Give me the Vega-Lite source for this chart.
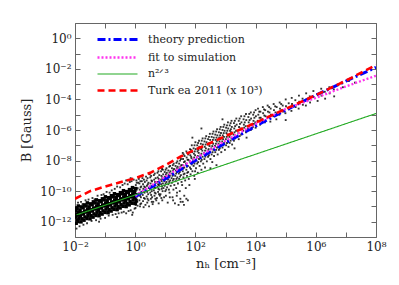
{
  "$schema": "https://vega.github.io/schema/vega-lite/v6.json",
  "width": 301,
  "height": 214,
  "autosize": {"type": "none"},
  "padding": {"left": 75, "top": 23, "right": 23, "bottom": 48},
  "background": "white",
  "config": {"view": {"stroke": null}, "font": "DejaVu Serif",
    "legend": {"labelFont": "DejaVu Serif", "labelFontSize": 11, "labelColor": "#222"}},
  "datasets": {
    "core": [
      {"x":-1.96,"y":-12.10},{"x":-1.93,"y":-11.89},{"x":-1.98,"y":-11.70},{"x":-1.94,"y":-11.50},{"x":-1.99,"y":-11.29},{"x":-1.95,"y":-11.10},
      {"x":-1.9,"y":-11.99},{"x":-1.87,"y":-11.78},{"x":-1.92,"y":-11.57},{"x":-1.88,"y":-11.38},{"x":-1.93,"y":-11.17},{"x":-1.89,"y":-10.97},
      {"x":-1.8,"y":-12.01},{"x":-1.77,"y":-11.81},{"x":-1.82,"y":-11.62},{"x":-1.78,"y":-11.42},{"x":-1.83,"y":-11.23},{"x":-1.79,"y":-11.03},
      {"x":-1.7,"y":-11.90},{"x":-1.67,"y":-11.69},{"x":-1.72,"y":-11.50},{"x":-1.68,"y":-11.30},{"x":-1.73,"y":-11.09},{"x":-1.69,"y":-10.90},
      {"x":-1.6,"y":-11.79},{"x":-1.57,"y":-11.58},{"x":-1.62,"y":-11.37},{"x":-1.58,"y":-11.18},{"x":-1.63,"y":-10.97},{"x":-1.59,"y":-10.77},
      {"x":-1.5,"y":-11.81},{"x":-1.47,"y":-11.61},{"x":-1.52,"y":-11.42},{"x":-1.48,"y":-11.22},{"x":-1.53,"y":-11.03},{"x":-1.49,"y":-10.83},
      {"x":-1.4,"y":-11.70},{"x":-1.37,"y":-11.49},{"x":-1.42,"y":-11.30},{"x":-1.38,"y":-11.10},{"x":-1.43,"y":-10.89},{"x":-1.39,"y":-10.70},
      {"x":-1.3,"y":-11.59},{"x":-1.27,"y":-11.38},{"x":-1.32,"y":-11.17},{"x":-1.28,"y":-10.98},{"x":-1.33,"y":-10.77},{"x":-1.29,"y":-10.57},
      {"x":-1.2,"y":-11.61},{"x":-1.17,"y":-11.41},{"x":-1.22,"y":-11.22},{"x":-1.18,"y":-11.02},{"x":-1.23,"y":-10.83},{"x":-1.19,"y":-10.63},
      {"x":-1.1,"y":-11.50},{"x":-1.07,"y":-11.29},{"x":-1.12,"y":-11.10},{"x":-1.08,"y":-10.90},{"x":-1.13,"y":-10.69},{"x":-1.09,"y":-10.50},
      {"x":-1.0,"y":-11.39},{"x":-0.97,"y":-11.18},{"x":-1.02,"y":-10.97},{"x":-0.98,"y":-10.78},{"x":-1.03,"y":-10.57},{"x":-0.99,"y":-10.37},
      {"x":-0.9,"y":-11.41},{"x":-0.87,"y":-11.21},{"x":-0.92,"y":-11.02},{"x":-0.88,"y":-10.82},{"x":-0.93,"y":-10.63},{"x":-0.89,"y":-10.43},
      {"x":-0.8,"y":-11.30},{"x":-0.77,"y":-11.09},{"x":-0.82,"y":-10.90},{"x":-0.78,"y":-10.70},{"x":-0.83,"y":-10.49},{"x":-0.79,"y":-10.30},
      {"x":-0.7,"y":-11.19},{"x":-0.67,"y":-10.98},{"x":-0.72,"y":-10.77},{"x":-0.68,"y":-10.58},{"x":-0.73,"y":-10.37},{"x":-0.69,"y":-10.17},
      {"x":-0.6,"y":-11.21},{"x":-0.57,"y":-11.01},{"x":-0.62,"y":-10.82},{"x":-0.58,"y":-10.62},{"x":-0.63,"y":-10.43},{"x":-0.59,"y":-10.23},
      {"x":-0.5,"y":-11.10},{"x":-0.47,"y":-10.89},{"x":-0.52,"y":-10.70},{"x":-0.48,"y":-10.50},{"x":-0.53,"y":-10.29},{"x":-0.49,"y":-10.10},
      {"x":-0.4,"y":-10.99},{"x":-0.37,"y":-10.78},{"x":-0.42,"y":-10.57},{"x":-0.38,"y":-10.38},{"x":-0.43,"y":-10.17},{"x":-0.39,"y":-9.97},
      {"x":-0.3,"y":-11.01},{"x":-0.27,"y":-10.81},{"x":-0.32,"y":-10.62},{"x":-0.28,"y":-10.42},{"x":-0.33,"y":-10.23},{"x":-0.29,"y":-10.03},
      {"x":-0.2,"y":-10.90},{"x":-0.17,"y":-10.69},{"x":-0.22,"y":-10.50},{"x":-0.18,"y":-10.30},{"x":-0.23,"y":-10.09},{"x":-0.19,"y":-9.90},
      {"x":-0.1,"y":-10.79},{"x":-0.07,"y":-10.58},{"x":-0.12,"y":-10.37},{"x":-0.08,"y":-10.18},{"x":-0.13,"y":-9.97},{"x":-0.09,"y":-9.77},
      {"x":0.0,"y":-10.81},{"x":0.03,"y":-10.61},{"x":-0.02,"y":-10.42},{"x":0.02,"y":-10.22},{"x":-0.03,"y":-10.03},{"x":0.01,"y":-9.83}
    ],
    "pts": [
      {"x":-1.95,"y":-12.45},{"x":-1.9,"y":-10.75},{"x":-1.85,"y":-12.3},{"x":-1.75,"y":-10.85},{"x":-1.72,"y":-12.2},{"x":-1.65,"y":-10.6},
      {"x":-1.6,"y":-12.1},{"x":-1.55,"y":-10.55},{"x":-1.45,"y":-11.95},{"x":-1.42,"y":-10.45},{"x":-1.35,"y":-10.55},{"x":-1.3,"y":-11.9},
      {"x":-1.25,"y":-10.3},{"x":-1.15,"y":-11.8},{"x":-1.12,"y":-10.25},{"x":-1.05,"y":-10.2},{"x":-1.0,"y":-11.75},{"x":-0.95,"y":-10.05},
      {"x":-0.88,"y":-11.6},{"x":-0.85,"y":-10.1},{"x":-0.78,"y":-9.95},{"x":-0.75,"y":-11.55},{"x":-0.68,"y":-9.85},{"x":-0.65,"y":-11.5},
      {"x":-0.6,"y":-9.7},{"x":-0.55,"y":-11.45},{"x":-0.5,"y":-9.75},{"x":-0.45,"y":-11.4},{"x":-0.42,"y":-9.6},{"x":-0.38,"y":-11.35},
      {"x":-0.35,"y":-9.5},{"x":-0.3,"y":-11.45},{"x":-0.25,"y":-9.55},{"x":-0.22,"y":-11.3},{"x":-0.18,"y":-9.4},{"x":-0.15,"y":-11.25},
      {"x":-0.12,"y":-9.35},{"x":-0.08,"y":-11.4},{"x":-0.05,"y":-9.25},{"x":-0.02,"y":-11.15},{"x":-0.3,"y":-9.3},{"x":-0.15,"y":-9.15},
      {"x":-0.1,"y":-11.55},{"x":-0.6,"y":-11.7},{"x":-1.2,"y":-12.0},{"x":-1.8,"y":-10.7},
      {"x":0.02,"y":-9.6},{"x":0.02,"y":-10.0},{"x":0.03,"y":-10.5},{"x":0.02,"y":-10.9},{"x":0.04,"y":-9.3},{"x":0.01,"y":-11.1},
      {"x":0.08,"y":-9.8},{"x":0.09,"y":-10.3},{"x":0.07,"y":-10.7},{"x":0.1,"y":-9.45},{"x":0.08,"y":-10.95},
      {"x":0.14,"y":-9.5},{"x":0.15,"y":-9.9},{"x":0.13,"y":-10.15},{"x":0.14,"y":-10.6},{"x":0.16,"y":-11.0},{"x":0.12,"y":-9.2},
      {"x":0.2,"y":-9.7},{"x":0.21,"y":-10.05},{"x":0.19,"y":-10.4},{"x":0.2,"y":-10.8},{"x":0.22,"y":-9.35},
      {"x":0.26,"y":-9.55},{"x":0.27,"y":-9.85},{"x":0.25,"y":-10.25},{"x":0.26,"y":-10.65},{"x":0.28,"y":-11.05},{"x":0.24,"y":-9.15},
      {"x":0.32,"y":-9.4},{"x":0.33,"y":-9.75},{"x":0.31,"y":-10.1},{"x":0.32,"y":-10.5},{"x":0.34,"y":-10.9},
      {"x":0.38,"y":-9.3},{"x":0.39,"y":-9.65},{"x":0.37,"y":-9.95},{"x":0.38,"y":-10.35},{"x":0.4,"y":-10.75},{"x":0.36,"y":-9.05},
      {"x":0.44,"y":-9.45},{"x":0.45,"y":-9.8},{"x":0.43,"y":-10.2},{"x":0.44,"y":-10.6},{"x":0.46,"y":-11.0},
      {"x":0.5,"y":-9.1},{"x":0.51,"y":-9.5},{"x":0.49,"y":-9.85},{"x":0.5,"y":-10.1},{"x":0.52,"y":-10.5},{"x":0.48,"y":-8.9},
      {"x":0.56,"y":-9.35},{"x":0.57,"y":-9.7},{"x":0.55,"y":-10.0},{"x":0.56,"y":-10.4},{"x":0.58,"y":-10.85},
      {"x":0.62,"y":-8.95},{"x":0.63,"y":-9.25},{"x":0.61,"y":-9.6},{"x":0.62,"y":-9.95},{"x":0.64,"y":-10.3},{"x":0.6,"y":-10.7},
      {"x":0.68,"y":-9.15},{"x":0.69,"y":-9.45},{"x":0.67,"y":-9.8},{"x":0.68,"y":-10.15},{"x":0.7,"y":-10.6},
      {"x":0.74,"y":-8.8},{"x":0.75,"y":-9.1},{"x":0.73,"y":-9.4},{"x":0.74,"y":-9.7},{"x":0.76,"y":-10.05},{"x":0.72,"y":-10.45},
      {"x":0.8,"y":-8.95},{"x":0.81,"y":-9.3},{"x":0.79,"y":-9.6},{"x":0.8,"y":-9.9},{"x":0.82,"y":-10.3},{"x":0.78,"y":-10.8},
      {"x":0.86,"y":-8.7},{"x":0.87,"y":-9.0},{"x":0.85,"y":-9.25},{"x":0.86,"y":-9.55},{"x":0.88,"y":-9.85},{"x":0.84,"y":-10.2},
      {"x":0.92,"y":-8.6},{"x":0.93,"y":-8.9},{"x":0.91,"y":-9.2},{"x":0.92,"y":-9.5},{"x":0.94,"y":-9.8},{"x":0.9,"y":-10.6},
      {"x":0.98,"y":-8.75},{"x":0.99,"y":-9.05},{"x":0.97,"y":-9.35},{"x":0.98,"y":-9.65},{"x":1.0,"y":-10.0},{"x":0.96,"y":-10.4},
      {"x":1.04,"y":-8.5},{"x":1.05,"y":-8.8},{"x":1.03,"y":-9.1},{"x":1.04,"y":-9.4},{"x":1.06,"y":-9.75},{"x":1.02,"y":-10.3},
      {"x":1.1,"y":-8.65},{"x":1.11,"y":-8.95},{"x":1.09,"y":-9.25},{"x":1.1,"y":-9.55},{"x":1.12,"y":-9.9},{"x":1.08,"y":-10.75},
      {"x":1.16,"y":-8.35},{"x":1.17,"y":-8.7},{"x":1.15,"y":-9.0},{"x":1.16,"y":-9.3},{"x":1.18,"y":-9.65},{"x":1.14,"y":-10.1},
      {"x":1.22,"y":-8.5},{"x":1.23,"y":-8.85},{"x":1.21,"y":-9.15},{"x":1.22,"y":-9.45},{"x":1.24,"y":-10.4},
      {"x":1.28,"y":-8.2},{"x":1.29,"y":-8.55},{"x":1.27,"y":-8.9},{"x":1.28,"y":-9.2},{"x":1.3,"y":-9.6},{"x":1.26,"y":-10.6},
      {"x":1.34,"y":-8.35},{"x":1.35,"y":-8.65},{"x":1.33,"y":-9.0},{"x":1.34,"y":-9.35},{"x":1.36,"y":-9.8},{"x":1.32,"y":-10.8},
      {"x":1.4,"y":-8.05},{"x":1.41,"y":-8.4},{"x":1.39,"y":-8.75},{"x":1.4,"y":-9.1},{"x":1.42,"y":-9.5},{"x":1.38,"y":-10.3},
      {"x":1.46,"y":-8.2},{"x":1.47,"y":-8.5},{"x":1.45,"y":-8.85},{"x":1.46,"y":-9.2},{"x":1.48,"y":-10.0},{"x":1.44,"y":-10.9},
      {"x":1.52,"y":-7.9},{"x":1.53,"y":-8.3},{"x":1.51,"y":-8.6},{"x":1.52,"y":-8.95},{"x":1.54,"y":-9.4},{"x":1.5,"y":-10.5},
      {"x":1.58,"y":-7.5},{"x":1.59,"y":-7.9},{"x":1.57,"y":-8.3},{"x":1.58,"y":-8.7},{"x":1.6,"y":-9.1},{"x":1.56,"y":-9.6},{"x":1.58,"y":-10.7},
      {"x":1.64,"y":-7.7},{"x":1.65,"y":-8.05},{"x":1.63,"y":-8.45},{"x":1.64,"y":-8.85},{"x":1.66,"y":-9.3},{"x":1.62,"y":-10.9},
      {"x":1.7,"y":-7.4},{"x":1.71,"y":-7.8},{"x":1.69,"y":-8.2},{"x":1.7,"y":-8.6},{"x":1.72,"y":-9.0},{"x":1.68,"y":-9.8},{"x":1.7,"y":-10.5},
      {"x":1.76,"y":-7.6},{"x":1.77,"y":-7.95},{"x":1.75,"y":-8.35},{"x":1.76,"y":-8.75},{"x":1.78,"y":-9.2},
      {"x":1.82,"y":-7.25},{"x":1.83,"y":-7.65},{"x":1.81,"y":-8.05},{"x":1.82,"y":-8.45},{"x":1.84,"y":-8.9},{"x":1.8,"y":-9.6},
      {"x":1.88,"y":-7.0},{"x":1.89,"y":-7.45},{"x":1.87,"y":-7.85},{"x":1.88,"y":-8.25},{"x":1.9,"y":-8.7},
      {"x":1.94,"y":-7.2},{"x":1.95,"y":-7.55},{"x":1.93,"y":-7.95},{"x":1.94,"y":-8.35},{"x":1.96,"y":-9.0},
      {"x":2.0,"y":-6.8},{"x":2.01,"y":-7.25},{"x":1.99,"y":-7.65},{"x":2.0,"y":-8.05},{"x":2.02,"y":-8.5},{"x":1.98,"y":-9.2},
      {"x":2.06,"y":-7.0},{"x":2.07,"y":-7.4},{"x":2.05,"y":-7.8},{"x":2.06,"y":-8.2},{"x":2.08,"y":-8.8},
      {"x":2.12,"y":-6.7},{"x":2.13,"y":-7.1},{"x":2.11,"y":-7.5},{"x":2.12,"y":-7.9},{"x":2.14,"y":-8.35},
      {"x":2.18,"y":-6.9},{"x":2.19,"y":-7.25},{"x":2.17,"y":-7.65},{"x":2.18,"y":-8.05},{"x":2.2,"y":-8.6},
      {"x":2.24,"y":-6.55},{"x":2.25,"y":-6.95},{"x":2.23,"y":-7.35},{"x":2.24,"y":-7.75},{"x":2.26,"y":-8.2},
      {"x":2.3,"y":-6.75},{"x":2.31,"y":-7.1},{"x":2.29,"y":-7.5},{"x":2.3,"y":-7.9},{"x":2.32,"y":-8.45},
      {"x":2.36,"y":-6.4},{"x":2.37,"y":-6.8},{"x":2.35,"y":-7.2},{"x":2.36,"y":-7.6},{"x":2.38,"y":-8.05},
      {"x":2.42,"y":-6.6},{"x":2.43,"y":-6.95},{"x":2.41,"y":-7.35},{"x":2.42,"y":-7.75},
      {"x":2.48,"y":-6.25},{"x":2.49,"y":-6.65},{"x":2.47,"y":-7.05},{"x":2.48,"y":-7.45},{"x":2.5,"y":-7.9},
      {"x":2.54,"y":-6.45},{"x":2.55,"y":-6.8},{"x":2.53,"y":-7.2},{"x":2.54,"y":-7.6},{"x":2.56,"y":-8.1},
      {"x":2.6,"y":-6.1},{"x":2.61,"y":-6.5},{"x":2.59,"y":-6.9},{"x":2.6,"y":-7.3},{"x":2.62,"y":-7.7},
      {"x":2.66,"y":-6.3},{"x":2.67,"y":-6.65},{"x":2.65,"y":-7.05},{"x":2.66,"y":-7.45},
      {"x":2.72,"y":-5.95},{"x":2.73,"y":-6.35},{"x":2.71,"y":-6.75},{"x":2.72,"y":-7.15},{"x":2.74,"y":-7.6},
      {"x":2.78,"y":-6.15},{"x":2.79,"y":-6.5},{"x":2.77,"y":-6.9},{"x":2.78,"y":-7.3},
      {"x":2.84,"y":-5.8},{"x":2.85,"y":-6.2},{"x":2.83,"y":-6.6},{"x":2.84,"y":-7.0},{"x":2.86,"y":-7.45},
      {"x":2.9,"y":-6.0},{"x":2.91,"y":-6.35},{"x":2.89,"y":-6.75},{"x":2.9,"y":-7.15},
      {"x":2.96,"y":-5.65},{"x":2.97,"y":-6.05},{"x":2.95,"y":-6.45},{"x":2.96,"y":-6.85},{"x":2.98,"y":-7.3},
      {"x":3.02,"y":-5.85},{"x":3.03,"y":-6.2},{"x":3.01,"y":-6.6},{"x":3.02,"y":-7.0},
      {"x":3.08,"y":-5.5},{"x":3.09,"y":-5.9},{"x":3.07,"y":-6.3},{"x":3.08,"y":-6.7},{"x":3.1,"y":-7.1},
      {"x":3.14,"y":-5.7},{"x":3.15,"y":-6.05},{"x":3.13,"y":-6.45},{"x":3.14,"y":-6.85},
      {"x":3.2,"y":-5.4},{"x":3.21,"y":-5.8},{"x":3.19,"y":-6.15},{"x":3.2,"y":-6.55},{"x":3.22,"y":-6.95},
      {"x":3.28,"y":-5.55},{"x":3.29,"y":-5.9},{"x":3.27,"y":-6.3},{"x":3.28,"y":-6.7},
      {"x":3.36,"y":-5.25},{"x":3.37,"y":-5.65},{"x":3.35,"y":-6.05},{"x":3.36,"y":-6.45},
      {"x":3.44,"y":-5.4},{"x":3.45,"y":-5.8},{"x":3.43,"y":-6.2},{"x":3.44,"y":-6.6},
      {"x":3.52,"y":-5.1},{"x":3.53,"y":-5.5},{"x":3.51,"y":-5.9},{"x":3.52,"y":-6.3},
      {"x":3.6,"y":-5.3},{"x":3.61,"y":-5.65},{"x":3.59,"y":-6.05},
      {"x":3.68,"y":-4.95},{"x":3.69,"y":-5.35},{"x":3.67,"y":-5.75},{"x":3.68,"y":-6.15},
      {"x":3.76,"y":-5.15},{"x":3.77,"y":-5.5},{"x":3.75,"y":-5.9},
      {"x":3.84,"y":-4.85},{"x":3.85,"y":-5.25},{"x":3.83,"y":-5.65},{"x":3.84,"y":-6.0},
      {"x":3.92,"y":-5.0},{"x":3.93,"y":-5.4},{"x":3.91,"y":-5.8},
      {"x":4.0,"y":-4.7},{"x":4.01,"y":-5.1},{"x":3.99,"y":-5.5},{"x":4.0,"y":-5.85},
      {"x":2.2,"y":-5.9},{"x":2.5,"y":-8.5},{"x":2.9,"y":-5.3},{"x":3.3,"y":-7.2},{"x":1.9,"y":-6.5},{"x":3.7,"y":-6.5},{"x":2.7,"y":-8.3},
      {"x":4.08,"y":-4.6},{"x":4.09,"y":-5.0},{"x":4.07,"y":-5.4},
      {"x":4.16,"y":-4.8},{"x":4.17,"y":-5.2},{"x":4.15,"y":-5.65},
      {"x":4.24,"y":-4.5},{"x":4.25,"y":-4.9},{"x":4.23,"y":-5.3},
      {"x":4.32,"y":-4.7},{"x":4.33,"y":-5.1},{"x":4.31,"y":-5.5},
      {"x":4.4,"y":-4.4},{"x":4.41,"y":-4.8},{"x":4.39,"y":-5.2},
      {"x":4.5,"y":-4.6},{"x":4.51,"y":-5.0},{"x":4.49,"y":-5.45},
      {"x":4.6,"y":-4.3},{"x":4.61,"y":-4.7},{"x":4.59,"y":-5.1},
      {"x":4.7,"y":-4.5},{"x":4.71,"y":-4.9},{"x":4.69,"y":-5.3},
      {"x":4.8,"y":-4.2},{"x":4.81,"y":-4.6},{"x":4.79,"y":-5.0},
      {"x":4.9,"y":-4.4},{"x":4.91,"y":-4.8},
      {"x":5.0,"y":-4.0},{"x":5.01,"y":-4.45},{"x":4.99,"y":-4.9},{"x":5.0,"y":-5.35},
      {"x":5.1,"y":-4.25},{"x":5.11,"y":-4.65},
      {"x":5.2,"y":-3.9},{"x":5.21,"y":-4.3},{"x":5.19,"y":-4.75},
      {"x":5.32,"y":-4.05},{"x":5.33,"y":-4.5},
      {"x":5.44,"y":-3.75},{"x":5.45,"y":-4.15},{"x":5.43,"y":-4.6},
      {"x":5.56,"y":-3.95},{"x":5.57,"y":-4.35},
      {"x":5.68,"y":-3.6},{"x":5.69,"y":-4.0},{"x":5.67,"y":-4.4},
      {"x":5.8,"y":-3.8},{"x":5.81,"y":-4.2},
      {"x":5.92,"y":-3.45},{"x":5.93,"y":-3.85},
      {"x":6.05,"y":-3.65},{"x":6.06,"y":-4.1},
      {"x":6.18,"y":-3.3},{"x":6.19,"y":-3.75},
      {"x":6.3,"y":-3.5},{"x":6.31,"y":-3.95},
      {"x":6.45,"y":-3.2},{"x":6.46,"y":-3.6},
      {"x":6.6,"y":-3.35},{"x":6.61,"y":-3.8},
      {"x":6.75,"y":-3.05},{"x":6.9,"y":-3.2},{"x":7.1,"y":-2.8},{"x":7.3,"y":-2.9},
      {"x":0.05,"y":-9.45},{"x":0.05,"y":-9.9},{"x":0.06,"y":-10.35},{"x":0.04,"y":-10.75},
      {"x":0.17,"y":-9.35},{"x":0.18,"y":-9.75},{"x":0.16,"y":-10.3},{"x":0.17,"y":-10.85},
      {"x":0.29,"y":-9.25},{"x":0.3,"y":-9.7},{"x":0.28,"y":-10.05},{"x":0.29,"y":-10.45},
      {"x":0.41,"y":-9.15},{"x":0.42,"y":-9.55},{"x":0.4,"y":-10.05},{"x":0.41,"y":-10.5},
      {"x":0.53,"y":-9.0},{"x":0.54,"y":-9.3},{"x":0.52,"y":-9.7},{"x":0.53,"y":-10.25},{"x":0.55,"y":-10.7},
      {"x":0.65,"y":-8.85},{"x":0.66,"y":-9.4},{"x":0.64,"y":-9.75},{"x":0.65,"y":-10.1},{"x":0.67,"y":-10.5},
      {"x":0.77,"y":-8.7},{"x":0.78,"y":-9.2},{"x":0.76,"y":-9.55},{"x":0.77,"y":-9.85},{"x":0.79,"y":-10.2},
      {"x":0.89,"y":-8.55},{"x":0.9,"y":-9.1},{"x":0.88,"y":-9.35},{"x":0.89,"y":-9.7},{"x":0.91,"y":-10.0},{"x":0.87,"y":-10.45},
      {"x":1.01,"y":-8.6},{"x":1.02,"y":-8.9},{"x":1.0,"y":-9.2},{"x":1.01,"y":-9.5},{"x":1.03,"y":-9.9},
      {"x":1.13,"y":-8.4},{"x":1.14,"y":-8.8},{"x":1.12,"y":-9.1},{"x":1.13,"y":-9.4},{"x":1.15,"y":-10.4},
      {"x":1.25,"y":-8.3},{"x":1.26,"y":-8.65},{"x":1.24,"y":-9.0},{"x":1.25,"y":-9.3},{"x":1.27,"y":-9.9},
      {"x":1.37,"y":-8.15},{"x":1.38,"y":-8.5},{"x":1.36,"y":-8.85},{"x":1.37,"y":-9.2},{"x":1.39,"y":-10.1},
      {"x":1.49,"y":-8.0},{"x":1.5,"y":-8.4},{"x":1.48,"y":-8.75},{"x":1.49,"y":-9.05},{"x":1.51,"y":-10.7},
      {"x":1.61,"y":-7.6},{"x":1.62,"y":-8.1},{"x":1.6,"y":-8.5},{"x":1.61,"y":-8.9},{"x":1.63,"y":-10.3},
      {"x":1.73,"y":-7.5},{"x":1.74,"y":-7.95},{"x":1.72,"y":-8.4},{"x":1.73,"y":-8.8},{"x":1.75,"y":-10.6},
      {"x":1.85,"y":-7.3},{"x":1.86,"y":-7.75},{"x":1.84,"y":-8.15},{"x":1.85,"y":-8.55},
      {"x":1.97,"y":-7.0},{"x":1.98,"y":-7.4},{"x":1.96,"y":-7.8},{"x":1.97,"y":-8.2},{"x":1.99,"y":-8.7},
      {"x":2.09,"y":-6.85},{"x":2.1,"y":-7.3},{"x":2.08,"y":-7.7},{"x":2.09,"y":-8.1},
      {"x":2.21,"y":-6.7},{"x":2.22,"y":-7.15},{"x":2.2,"y":-7.55},{"x":2.21,"y":-7.95},
      {"x":2.33,"y":-6.55},{"x":2.34,"y":-6.95},{"x":2.32,"y":-7.35},{"x":2.33,"y":-7.75},
      {"x":2.45,"y":-6.45},{"x":2.46,"y":-6.85},{"x":2.44,"y":-7.25},{"x":2.45,"y":-7.65},
      {"x":2.57,"y":-6.25},{"x":2.58,"y":-6.65},{"x":2.56,"y":-7.05},{"x":2.57,"y":-7.45},
      {"x":2.69,"y":-6.1},{"x":2.7,"y":-6.5},{"x":2.68,"y":-6.9},{"x":2.69,"y":-7.3},
      {"x":2.81,"y":-5.95},{"x":2.82,"y":-6.35},{"x":2.8,"y":-6.75},{"x":2.81,"y":-7.2},
      {"x":2.93,"y":-5.8},{"x":2.94,"y":-6.2},{"x":2.92,"y":-6.6},{"x":2.93,"y":-7.0},
      {"x":3.05,"y":-5.7},{"x":3.06,"y":-6.05},{"x":3.04,"y":-6.45},{"x":3.05,"y":-6.85},
      {"x":3.17,"y":-5.55},{"x":3.18,"y":-5.95},{"x":3.16,"y":-6.3},{"x":3.17,"y":-6.7},
      {"x":3.31,"y":-5.4},{"x":3.32,"y":-5.75},{"x":3.3,"y":-6.15},{"x":3.31,"y":-6.55},
      {"x":3.47,"y":-5.25},{"x":3.48,"y":-5.6},{"x":3.46,"y":-6.0},{"x":3.47,"y":-6.4},
      {"x":3.63,"y":-5.1},{"x":3.64,"y":-5.5},{"x":3.62,"y":-5.85},
      {"x":3.79,"y":-4.95},{"x":3.8,"y":-5.35},{"x":3.78,"y":-5.75},
      {"x":3.95,"y":-4.85},{"x":3.96,"y":-5.2},{"x":3.94,"y":-5.6},
      {"x":4.12,"y":-4.8},{"x":4.13,"y":-5.2},{"x":4.28,"y":-4.65},{"x":4.29,"y":-5.05},
      {"x":4.45,"y":-4.5},{"x":4.46,"y":-4.85},{"x":4.65,"y":-4.45},{"x":4.66,"y":-4.85},
      {"x":4.85,"y":-4.3},{"x":4.86,"y":-4.7}
    ],
    "lines": [
      {"s":"theory prediction","x":0,"y":-10.35},{"s":"theory prediction","x":1,"y":-9.2},{"s":"theory prediction","x":2,"y":-8.0},
      {"s":"theory prediction","x":3,"y":-6.85},{"s":"theory prediction","x":4,"y":-5.75},{"s":"theory prediction","x":5,"y":-4.7},
      {"s":"theory prediction","x":6,"y":-3.72},{"s":"theory prediction","x":7,"y":-2.8},{"s":"theory prediction","x":8,"y":-1.9},
      {"s":"fit to simulation","x":0,"y":-10.3},{"s":"fit to simulation","x":1,"y":-9.05},{"s":"fit to simulation","x":2,"y":-7.85},
      {"s":"fit to simulation","x":3,"y":-6.7},{"s":"fit to simulation","x":4,"y":-5.6},{"s":"fit to simulation","x":5,"y":-4.62},
      {"s":"fit to simulation","x":6,"y":-3.9},{"s":"fit to simulation","x":7,"y":-3.15},{"s":"fit to simulation","x":8,"y":-2.45},
      {"s":"n²ᐟ³","x":-1.95,"y":-11.55},{"s":"n²ᐟ³","x":8,"y":-4.92},
      {"s":"Turk ea 2011 (x 10³)","x":-2,"y":-10.5},{"s":"Turk ea 2011 (x 10³)","x":-1.5,"y":-10.0},{"s":"Turk ea 2011 (x 10³)","x":-1,"y":-9.7},
      {"s":"Turk ea 2011 (x 10³)","x":-0.5,"y":-9.42},{"s":"Turk ea 2011 (x 10³)","x":0,"y":-9.15},{"s":"Turk ea 2011 (x 10³)","x":0.5,"y":-8.8},
      {"s":"Turk ea 2011 (x 10³)","x":1,"y":-8.3},{"s":"Turk ea 2011 (x 10³)","x":1.5,"y":-7.75},{"s":"Turk ea 2011 (x 10³)","x":2,"y":-7.28},
      {"s":"Turk ea 2011 (x 10³)","x":2.5,"y":-6.85},{"s":"Turk ea 2011 (x 10³)","x":3,"y":-6.4},{"s":"Turk ea 2011 (x 10³)","x":4,"y":-5.52},
      {"s":"Turk ea 2011 (x 10³)","x":5,"y":-4.62},{"s":"Turk ea 2011 (x 10³)","x":6,"y":-3.72},{"s":"Turk ea 2011 (x 10³)","x":7,"y":-2.77},
      {"s":"Turk ea 2011 (x 10³)","x":8,"y":-1.75}
    ]
  },
  "layer": [
    {
      "data": {"name": "core"},
      "mark": {"type": "square", "size": 12, "color": "black", "opacity": 1, "clip": true},
      "encoding": {
        "x": {"field": "x", "type": "quantitative", "scale": {"domain": [-2, 8], "nice": false, "zero": false},
          "axis": {"orient": "bottom", "values": [-2,-1,0,1,2,3,4,5,6,7,8], "grid": false,
            "labelExpr": "datum.value % 2 == 0 ? '10' + replace(replace(replace(replace(replace(replace(replace(''+datum.value,'-','⁻'),'0','⁰'),'1','¹'),'2','²'),'4','⁴'),'6','⁶'),'8','⁸') : ''",
            "tickSize": -5, "labelPadding": 9, "labelFlush": false, "labelOverlap": false,
            "domainColor": "#666", "tickColor": "#666", "labelFont": "DejaVu Serif", "labelFontSize": 12, "labelColor": "#222",
            "title": "nₕ [cm⁻³]", "titleFont": "DejaVu Serif", "titleFontSize": 13, "titleFontWeight": "normal", "titleColor": "#222", "titlePadding": 5}},
        "y": {"field": "y", "type": "quantitative", "scale": {"domain": [-13, 1], "nice": false, "zero": false},
          "axis": {"orient": "left", "values": [-13,-12,-11,-10,-9,-8,-7,-6,-5,-4,-3,-2,-1,0,1], "grid": false,
            "labelExpr": "datum.value % 2 == 0 ? '10' + replace(replace(replace(replace(replace(replace(replace(''+datum.value,'-','⁻'),'0','⁰'),'1','¹'),'2','²'),'4','⁴'),'6','⁶'),'8','⁸') : ''",
            "tickSize": -5, "labelPadding": 9, "labelFlush": false, "labelOverlap": false,
            "domainColor": "#666", "tickColor": "#666", "labelFont": "DejaVu Serif", "labelFontSize": 12, "labelColor": "#222",
            "title": "B [Gauss]", "titleFont": "DejaVu Serif", "titleFontSize": 13, "titleFontWeight": "normal", "titleColor": "#222", "titlePadding": 6}}
      }
    },
    {
      "data": {"name": "pts"},
      "mark": {"type": "square", "size": 3.5, "color": "black", "opacity": 0.8, "clip": true},
      "encoding": {
        "x": {"field": "x", "type": "quantitative",
          "axis": {"orient": "top", "values": [-2,-1,0,1,2,3,4,5,6,7,8], "grid": false, "labels": false, "title": null,
            "tickSize": -5, "domainColor": "#666", "tickColor": "#666"}},
        "y": {"field": "y", "type": "quantitative",
          "axis": {"orient": "right", "values": [-13,-12,-11,-10,-9,-8,-7,-6,-5,-4,-3,-2,-1,0,1], "grid": false, "labels": false, "title": null,
            "tickSize": -5, "domainColor": "#666", "tickColor": "#666"}}
      }
    },
    {
      "data": {"name": "lines"},
      "mark": {"type": "line", "clip": true},
      "encoding": {
        "x": {"field": "x", "type": "quantitative", "axis": null},
        "y": {"field": "y", "type": "quantitative", "axis": null},
        "color": {"field": "s", "type": "nominal",
          "scale": {"domain": ["theory prediction", "fit to simulation", "n²ᐟ³", "Turk ea 2011 (x 10³)"], "range": ["#0000ff", "#ff33ee", "#22aa22", "#ff0000"]},
          "legend": {"orient": "none", "legendX": 36, "legendY": 10, "title": null, "symbolType": "M-4,0H4", "symbolSize": 100,
            "labelFont": "DejaVu Serif", "labelFontSize": 11, "labelColor": "#222", "labelOffset": 24, "rowPadding": 5, "padding": 0}},
        "strokeDash": {"field": "s", "type": "nominal",
          "scale": {"domain": ["theory prediction", "fit to simulation", "n²ᐟ³", "Turk ea 2011 (x 10³)"], "range": [[8,3,2,3],[2,2],[1,0],[7,4]]},
          "legend": {"orient": "none", "legendX": 36, "legendY": 10, "title": null, "symbolType": "M-4,0H4", "symbolSize": 100,
            "labelFont": "DejaVu Serif", "labelFontSize": 11, "labelColor": "#222", "labelOffset": 24, "rowPadding": 5, "padding": 0}},
        "strokeWidth": {"field": "s", "type": "nominal",
          "scale": {"type": "ordinal", "domain": ["theory prediction", "fit to simulation", "n²ᐟ³", "Turk ea 2011 (x 10³)"], "range": [3, 2.3, 1.1, 2.6]},
          "legend": {"orient": "none", "legendX": 36, "legendY": 10, "title": null, "symbolType": "M-4,0H4", "symbolSize": 100,
            "labelFont": "DejaVu Serif", "labelFontSize": 11, "labelColor": "#222", "labelOffset": 24, "rowPadding": 5, "padding": 0}}
      }
    }
  ],
  "resolve": {"axis": {"x": "independent", "y": "independent"}}
}
